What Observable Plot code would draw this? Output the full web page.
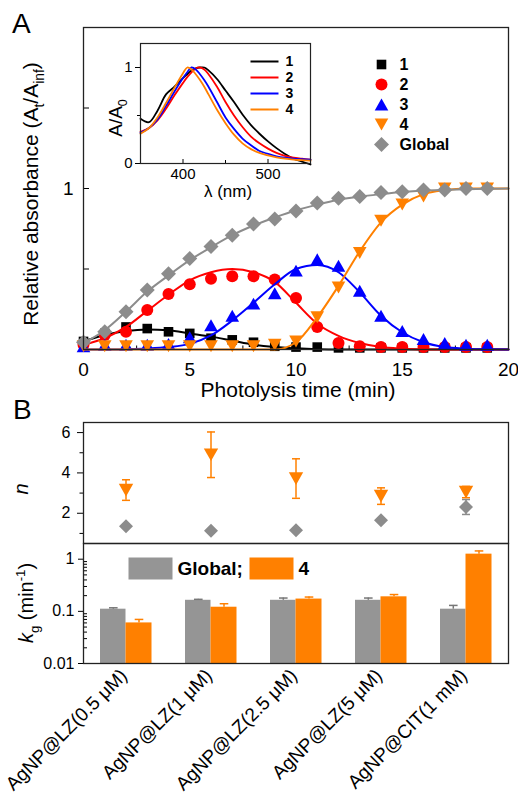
<!DOCTYPE html>
<html><head><meta charset="utf-8">
<script src="https://cdn.jsdelivr.net/npm/d3@7"></script>
<script src="https://cdn.jsdelivr.net/npm/@observablehq/plot@0.6"></script>
<style>
html,body{margin:0;padding:0;background:#fff;}
#chart{position:relative;width:518px;height:795px;overflow:hidden;background:#fff;}
#chart svg{position:absolute;left:0;top:0;}
</style></head><body><div id="chart"></div>
<script>
// ---------------- Panel A data ----------------
const times = [0,1,2,3,4,5,6,7,8,9,10,11,12,13,14,15,16,17,18,19];
const species1 = [0.05,0.10,0.14,0.13,0.11,0.10,0.07,0.06,0.045,0.02,0.015,0.015,0.01,0.01,0.01,0.01,0.01,0.01,0.01,0.01];
const species2 = [0.03,0.09,0.11,0.245,0.345,0.405,0.44,0.455,0.455,0.435,0.32,0.14,0.04,0.02,0.015,0.015,0.015,0.015,0.015,0.015];
const species3 = [0.02,0.03,0.03,0.03,0.035,0.076,0.15,0.21,0.285,0.35,0.49,0.56,0.52,0.365,0.21,0.115,0.065,0.04,0.03,0.03];
const species4 = [0.02,0.02,0.02,0.02,0.02,0.02,0.02,0.02,0.02,0.03,0.05,0.2,0.385,0.6,0.8,0.9,0.95,1.0,1.0,1.0];
const globalA  = [0.045,0.11,0.235,0.37,0.47,0.565,0.64,0.71,0.78,0.81,0.86,0.91,0.94,0.95,0.975,0.98,0.99,0.99,1.0,1.0];

const fitTimes = [0,1,2,3,4,5,6,7,8,9,10,11,12,13,14,15,16,17,18,19,20];
const fit1 = [0.05,0.09,0.115,0.125,0.12,0.10,0.08,0.055,0.03,0.015,0.007,0.002,0,0,0,0,0,0,0,0,0];
const fit2 = [0.03,0.07,0.14,0.24,0.34,0.43,0.48,0.50,0.48,0.42,0.29,0.16,0.085,0.04,0.015,0.005,0,0,0,0,0];
const fit3 = [0,0,0.002,0.006,0.015,0.035,0.087,0.18,0.29,0.405,0.50,0.525,0.48,0.355,0.21,0.107,0.045,0.015,0.005,0.001,0];
const fit4 = [0,0,0,0,0,0,0,0,0,0,0.045,0.2,0.395,0.61,0.79,0.9,0.965,0.99,1.0,1.0,1.0];
const fitG = [0.04,0.12,0.235,0.36,0.46,0.555,0.635,0.71,0.77,0.82,0.865,0.9,0.93,0.95,0.965,0.978,0.987,0.992,0.996,0.998,1.0];

const seriesNames = ["1","2","3","4","Global"];

// ---------------- Inset data ----------------
const wavelength = [350,360,370,380,390,400,405,410,415,420,425,430,440,450,460,470,480,490,500,510,520,530,540,550];
const spec1 = [0.465,0.43,0.55,0.72,0.80,0.89,0.93,0.97,0.99,1.0,1.0,0.97,0.88,0.76,0.64,0.51,0.40,0.31,0.23,0.16,0.10,0.05,0.02,-0.01];
const spec2 = [0.33,0.37,0.45,0.57,0.71,0.84,0.90,0.95,0.99,1.0,0.98,0.93,0.80,0.64,0.50,0.38,0.28,0.21,0.155,0.11,0.08,0.06,0.05,0.04];
const spec3 = [0.32,0.37,0.46,0.60,0.75,0.89,0.95,1.0,0.98,0.93,0.87,0.80,0.64,0.48,0.36,0.26,0.19,0.13,0.10,0.075,0.06,0.05,0.045,0.04];
const spec4 = [0.31,0.37,0.48,0.63,0.79,0.94,1.0,0.98,0.93,0.87,0.80,0.72,0.56,0.42,0.30,0.21,0.15,0.11,0.085,0.065,0.05,0.04,0.035,0.03];

// ---------------- Panel B data ----------------
const categories = ["AgNP@LZ(0.5 μM)","AgNP@LZ(1 μM)","AgNP@LZ(2.5 μM)","AgNP@LZ(5 μM)","AgNP@CIT(1 mM)"];
const nGlobal    = [1.36,1.13,1.16,1.65,2.31];
const nGlobalErr = [0.1,0.1,0.1,0.1,0.37];
const n4         = [3.15,4.9,3.72,2.85,3.05];
const n4Err      = [0.51,1.13,0.98,0.41,0.28];
const kGlobal    = [0.11,0.163,0.163,0.163,0.11];
const kGlobalErr = [0.007,0.007,0.017,0.017,0.02];
const k4         = [0.06,0.12,0.172,0.19,1.25];
const k4Err      = [0.01,0.02,0.016,0.02,0.19];

const yTicksA = [1], yMinorA = [0.5,1.5];
const xTicksA = [0,5,10,15,20], xMinorA = [2.5,7.5,12.5,17.5];
const nTicks = [2,4,6], nMinor = [1,3,5];
const kTicks = [0.01,0.1,1];
const kMinor = [0.02,0.03,0.04,0.05,0.06,0.07,0.08,0.09,0.2,0.3,0.4,0.5,0.6,0.7,0.8,0.9];

// ---------------- styling ----------------
const FONT = "'Liberation Sans', Arial, Helvetica, sans-serif";
const ORANGE = "#ff8000", GRAY = "#8c8c8c", GRAYBAR = "#959595";
const style = {fontFamily: FONT, background: "transparent", overflow: "visible"};
const fmt = d3.format("~g");

const rOf = s => Math.sqrt(s / Math.PI);
const sym = {
  square: {draw(c, s) { const r = rOf(s); c.rect(-r, -r, 2*r, 2*r); }},
  circle: {draw(c, s) { const r = rOf(s); c.moveTo(r, 0); c.arc(0, 0, r, 0, 2*Math.PI); }},
  triUp: {draw(c, s) { const r = rOf(s), h = r*0.88; c.moveTo(0, -h); c.lineTo(r, h); c.lineTo(-r, h); c.closePath(); }},
  triDown: {draw(c, s) { const r = rOf(s), h = r*0.88; c.moveTo(0, h); c.lineTo(r, -h); c.lineTo(-r, -h); c.closePath(); }},
  diamond: {draw(c, s) { const r = rOf(s); c.moveTo(0, -r); c.lineTo(r, 0); c.lineTo(0, r); c.lineTo(-r, 0); c.closePath(); }},
  hline: {draw(c, s) { const r = rOf(s); c.moveTo(-r, 0); c.lineTo(r, 0); }},
  box: {draw(c, s) { const r = rOf(s); c.rect(-r, -r/2, 2*r, r); }}
};

const seriesA = [
  {name: seriesNames[0], values: species1, fit: fit1, color: "#000000", symbol: sym.square, r: 4.8},
  {name: seriesNames[1], values: species2, fit: fit2, color: "#ff0000", symbol: sym.circle, r: 6},
  {name: seriesNames[2], values: species3, fit: fit3, color: "#0000ff", symbol: sym.triUp, r: 6.8},
  {name: seriesNames[3], values: species4, fit: fit4, color: ORANGE, symbol: sym.triDown, r: 6.8},
  {name: seriesNames[4], values: globalA, fit: fitG, color: GRAY, symbol: sym.diamond, r: 7.5}
];

const chart = document.getElementById("chart");
const blank = () => "";

// ---------------- Panel A main ----------------
const plotA = Plot.plot({
  width: 518, height: 795, marginLeft: 83, marginRight: 10, marginTop: 27, marginBottom: 446,
  style,
  x: {domain: [0, 20], label: null},
  y: {domain: [0, 2], label: null},
  marks: [
    Plot.axisX({ticks: xTicksA, tickSize: -6, tickPadding: 19, fontSize: 19, tickFormat: fmt, label: null}),
    Plot.axisX({ticks: xMinorA, tickSize: -3.5, tickFormat: blank, label: null}),
    Plot.axisY({ticks: yTicksA, tickSize: -6, tickPadding: 16, fontSize: 19, tickFormat: fmt, label: null}),
    Plot.axisY({ticks: yMinorA, tickSize: -6, tickFormat: blank, label: null}),
    ...seriesA.flatMap(s => [
      Plot.line(fitTimes, {x: d => d, y: (d, i) => s.fit[i], stroke: s.color, strokeWidth: 2, curve: "monotone-x"}),
      Plot.dot(times, {x: d => d, y: (d, i) => s.values[i], symbol: s.symbol, r: s.r, fill: s.color, stroke: "none"})
    ]),
    ...seriesA.flatMap((s, i) => [
      Plot.dot([s], {frameAnchor: "top-left", dx: 298, dy: 37 + i*20, symbol: s.symbol, r: s.r, fill: s.color, stroke: "none"}),
      Plot.text([s], {frameAnchor: "top-left", dx: 316, dy: 37 + i*20, text: d => d.name, textAnchor: "start", lineAnchor: "middle", fontSize: 16, fontWeight: "bold"})
    ]),
    Plot.frame({stroke: "#222", strokeWidth: 1.3})
  ]
});
chart.appendChild(plotA);

// ---------------- Inset ----------------
const insetSeries = [
  {name: "1", values: spec1, color: "#000000"},
  {name: "2", values: spec2, color: "#ff0000"},
  {name: "3", values: spec3, color: "#0000ff"},
  {name: "4", values: spec4, color: ORANGE}
];
const inset = Plot.plot({
  width: 518, height: 795, marginLeft: 140, marginRight: 208, marginTop: 43, marginBottom: 632,
  style,
  x: {domain: [350, 550], label: null},
  y: {domain: [0, 1.25], label: null},
  marks: [
    Plot.frame({fill: "white", stroke: "none"}),
    Plot.axisX({ticks: [400, 500], tickSize: -4, tickPadding: 9, fontSize: 15, tickFormat: fmt, label: null}),
    Plot.axisX({ticks: [450], tickSize: -3, tickFormat: blank, label: null}),
    Plot.axisY({ticks: [0, 1], tickSize: 5, tickPadding: 3, fontSize: 15, tickFormat: fmt, label: null}),
    Plot.axisY({ticks: [0.5], tickSize: 3, tickFormat: blank, label: null}),
    ...insetSeries.map(s => Plot.line(wavelength, {x: d => d, y: (d, i) => s.values[i], stroke: s.color, strokeWidth: 1.8, curve: "catmull-rom"})),
    ...insetSeries.flatMap((s, i) => [
      Plot.dot([s], {frameAnchor: "top-left", dx: 124, dy: 18 + i*16, symbol: sym.hline, r: 14, stroke: s.color, strokeWidth: 2, fill: "none"}),
      Plot.text([s], {frameAnchor: "top-left", dx: 145, dy: 18 + i*16, text: d => d.name, textAnchor: "start", lineAnchor: "middle", fontSize: 14, fontWeight: "bold"})
    ]),
    Plot.frame({stroke: "#222", strokeWidth: 1.2})
  ]
});
chart.appendChild(inset);

// ---------------- Panel B upper (n) ----------------
const plotN = Plot.plot({
  width: 518, height: 795, marginLeft: 83, marginRight: 10, marginTop: 422, marginBottom: 252,
  style,
  x: {type: "band", domain: categories, padding: 0, axis: null},
  y: {domain: [0.5, 6.5], label: null},
  marks: [
    Plot.axisY({ticks: nTicks, tickSize: 6, tickPadding: 7, fontSize: 16, tickFormat: fmt, label: null}),
    Plot.axisY({ticks: nMinor, tickSize: 3.5, tickFormat: blank, label: null}),
    Plot.ruleX(categories, {x: d => d, y1: (d, i) => nGlobal[i] - nGlobalErr[i], y2: (d, i) => nGlobal[i] + nGlobalErr[i], stroke: GRAY, strokeWidth: 1.5}),
    Plot.dot(categories, {x: d => d, y: (d, i) => nGlobal[i] - nGlobalErr[i], symbol: sym.hline, r: 4, stroke: GRAY, strokeWidth: 1.5}),
    Plot.dot(categories, {x: d => d, y: (d, i) => nGlobal[i] + nGlobalErr[i], symbol: sym.hline, r: 4, stroke: GRAY, strokeWidth: 1.5}),
    Plot.dot(categories, {x: d => d, y: (d, i) => nGlobal[i], symbol: sym.diamond, r: 7, fill: GRAY, stroke: "none"}),
    Plot.ruleX(categories, {x: d => d, y1: (d, i) => n4[i] - n4Err[i], y2: (d, i) => n4[i] + n4Err[i], stroke: ORANGE, strokeWidth: 1.5}),
    Plot.dot(categories, {x: d => d, y: (d, i) => n4[i] - n4Err[i], symbol: sym.hline, r: 4, stroke: ORANGE, strokeWidth: 1.5}),
    Plot.dot(categories, {x: d => d, y: (d, i) => n4[i] + n4Err[i], symbol: sym.hline, r: 4, stroke: ORANGE, strokeWidth: 1.5}),
    Plot.dot(categories, {x: d => d, y: (d, i) => n4[i], symbol: sym.triDown, r: 7.2, fill: ORANGE, stroke: "none"}),
    Plot.frame({stroke: "#222", strokeWidth: 1.3})
  ]
});
chart.appendChild(plotN);

// ---------------- Panel B lower (kg) ----------------
const plotK = Plot.plot({
  width: 518, height: 795, marginLeft: 83, marginRight: 10, marginTop: 543, marginBottom: 132,
  style,
  x: {type: "band", domain: categories, padding: 0, label: null},
  y: {type: "log", domain: [0.01, 2], label: null},
  marks: [
    Plot.axisY({ticks: kTicks, tickSize: 5, tickPadding: 4, fontSize: 16, tickFormat: fmt, label: null}),
    Plot.axisY({ticks: kMinor, tickSize: -4, tickFormat: blank, label: null}),
    Plot.axisX({tickRotate: -45, tickSize: 0, tickPadding: 9, dx: -2, fontSize: 19, label: null}),
    Plot.barY(categories, {x: d => d, y1: 0.01, y2: (d, i) => kGlobal[i], fill: GRAYBAR, insetLeft: 17, insetRight: 42.5}),
    Plot.barY(categories, {x: d => d, y1: 0.01, y2: (d, i) => k4[i], fill: ORANGE, insetLeft: 42.5, insetRight: 16.5}),
    Plot.ruleX(categories, {x: d => d, dx: -12.7, y1: (d, i) => kGlobal[i], y2: (d, i) => kGlobal[i] + kGlobalErr[i], stroke: "#777", strokeWidth: 1.5}),
    Plot.dot(categories, {x: d => d, dx: -12.7, y: (d, i) => kGlobal[i] + kGlobalErr[i], symbol: sym.hline, r: 4.3, stroke: "#777", strokeWidth: 1.5}),
    Plot.ruleX(categories, {x: d => d, dx: 13, y1: (d, i) => k4[i], y2: (d, i) => k4[i] + k4Err[i], stroke: ORANGE, strokeWidth: 1.5}),
    Plot.dot(categories, {x: d => d, dx: 13, y: (d, i) => k4[i] + k4Err[i], symbol: sym.hline, r: 4.3, stroke: ORANGE, strokeWidth: 1.5}),
    Plot.dot(["Global"], {frameAnchor: "top-left", dx: 67, dy: 25, symbol: sym.box, r: 22, fill: GRAYBAR, stroke: "none"}),
    Plot.text(["Global;"], {frameAnchor: "top-left", dx: 94, dy: 25, text: d => d, textAnchor: "start", lineAnchor: "middle", fontSize: 19, fontWeight: "bold"}),
    Plot.dot(["4"], {frameAnchor: "top-left", dx: 188, dy: 25, symbol: sym.box, r: 22, fill: ORANGE, stroke: "none"}),
    Plot.text(["4"], {frameAnchor: "top-left", dx: 215, dy: 25, text: d => d, textAnchor: "start", lineAnchor: "middle", fontSize: 19, fontWeight: "bold"}),
    Plot.frame({stroke: "#222", strokeWidth: 1.3})
  ]
});
chart.appendChild(plotK);

// ---------------- titles & labels (rich text) ----------------
const over = d3.create("svg").attr("width", 518).attr("height", 795).style("overflow", "visible");
function addText({x, y, rotate = 0, size, anchor = "middle", weight = "normal", parts}) {
  const t = over.append("text")
    .attr("transform", `translate(${x},${y}) rotate(${rotate})`)
    .attr("text-anchor", anchor).attr("font-size", size).attr("font-weight", weight)
    .attr("font-family", FONT).attr("fill", "#000");
  let shift = 0;
  for (const p of parts) {
    const s = t.append("tspan").text(p.t);
    let target = 0;
    if (p.sub) { s.attr("font-size", size * 0.66); target = size * 0.28; }
    if (p.sup) { s.attr("font-size", size * 0.66); target = -size * 0.42; }
    if (p.italic) s.attr("font-style", "italic");
    if (target !== shift) { s.attr("dy", target - shift); shift = target; }
  }
}
addText({x: 12, y: 33, size: 28, anchor: "start", parts: [{t: "A"}]});
addText({x: 13, y: 419, size: 28, anchor: "start", parts: [{t: "B"}]});
addText({x: 298, y: 397, size: 21, parts: [{t: "Photolysis time (min)"}]});
addText({x: 38, y: 194, rotate: -90, size: 21, parts: [
  {t: "Relative absorbance ("}, {t: "A"}, {t: "t", sub: true}, {t: "/A"}, {t: "inf", sub: true}, {t: ")"}]});
addText({x: 228, y: 197, size: 17, parts: [{t: "λ (nm)"}]});
addText({x: 122, y: 118, rotate: -90, size: 19, parts: [{t: "A/A"}, {t: "0", sub: true}]});
addText({x: 28, y: 489, rotate: -90, size: 20, parts: [{t: "n", italic: true}]});
addText({x: 33, y: 603, rotate: -90, size: 20, parts: [
  {t: "k", italic: true}, {t: "g", sub: true}, {t: " (min"}, {t: "-1", sup: true}, {t: ")"}]});
chart.appendChild(over.node());
</script></body></html>
